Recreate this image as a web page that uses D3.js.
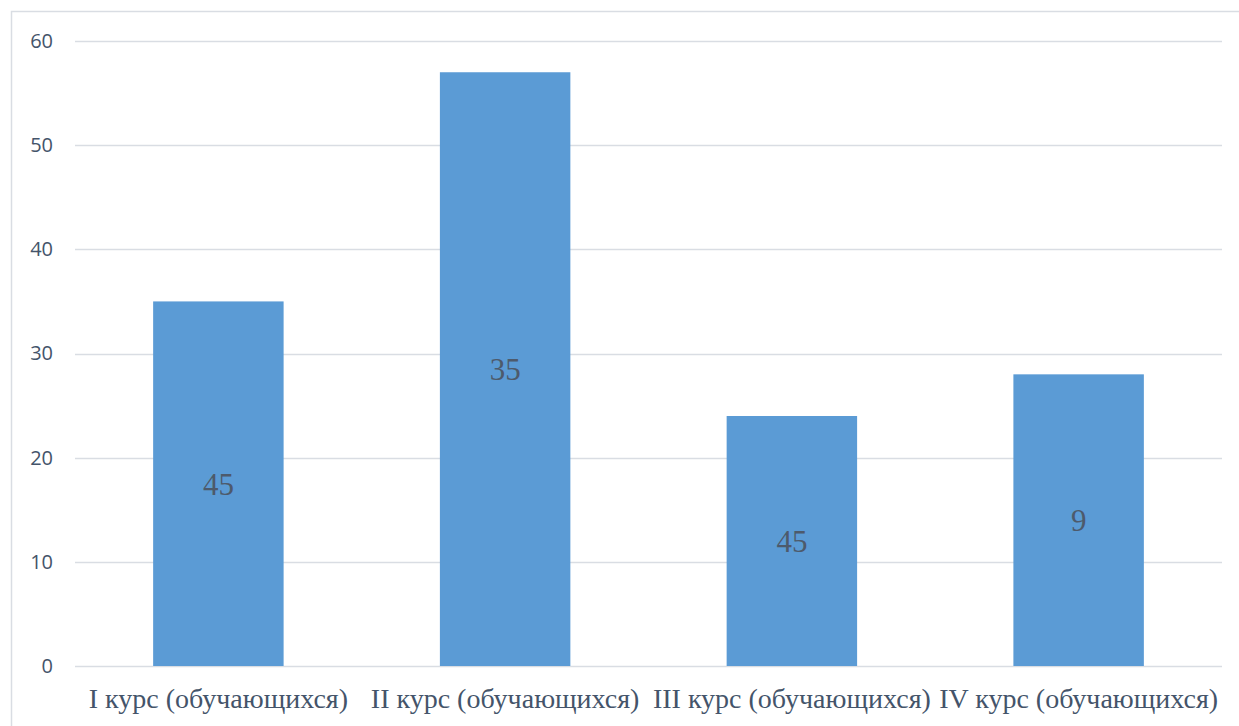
<!DOCTYPE html>
<meta charset="utf-8">
<style>
body { margin: 0; background: #fff; }
</style>
<body>
<script src="https://d3js.org/d3.v7.min.js"></script>
<script>

// Data
var categories = ["I курс (обучающихся)", "II курс (обучающихся)", "III курс (обучающихся)", "IV курс (обучающихся)"];
var values = [35, 57, 24, 28];
var labels = ["45", "35", "45", "9"];
var yTicks = [0, 10, 20, 30, 40, 50, 60];

var serif = "'Liberation Serif', 'Times New Roman', 'DejaVu Serif', serif";
var sans = "'Open Sans', 'Noto Sans', sans-serif";

var W = 1239, H = 726;
var margin = {top: 41, right: 17, bottom: 60, left: 75},
    width = W - margin.left - margin.right,
    height = H - margin.top - margin.bottom;

var svg = d3.select("body").append("svg")
    .attr("width", W)
    .attr("height", H);

// chart frame (only left/top visible)
svg.append("rect")
    .attr("x", 11.5).attr("y", 11.5)
    .attr("width", W + 20).attr("height", H + 20)
    .attr("fill", "none")
    .attr("stroke", "#d9dde3")
    .attr("stroke-width", 1.5);

var g = svg.append("g")
    .attr("transform", "translate(" + margin.left + "," + margin.top + ")");

var x = d3.scaleBand().domain(categories).range([0, width]).paddingInner(0.545).paddingOuter(0.2725);
var y = d3.scaleLinear().domain([0, 60]).range([height, 0]);

// gridlines
g.append("g")
    .selectAll("line").data(yTicks).enter().append("line")
    .attr("x1", 0).attr("x2", width)
    .attr("y1", function(d) { return Math.round(y(d)) + 0.5; })
    .attr("y2", function(d) { return Math.round(y(d)) + 0.5; })
    .attr("stroke", "#d9dde3")
    .attr("stroke-width", 1.5);

// y axis labels
var yAxis = d3.axisLeft(y).tickValues(yTicks).tickSize(0).tickPadding(22);
var ya = g.append("g").call(yAxis);
ya.select(".domain").remove();
ya.selectAll("text")
    .style("font-family", sans)
    .style("font-size", "20px")
    .style("fill", "#44546a");

// bars
g.selectAll(".bar").data(values).enter().append("rect")
    .attr("class", "bar")
    .attr("x", function(d, i) { return x(categories[i]); })
    .attr("width", x.bandwidth())
    .attr("y", function(d) { return y(d); })
    .attr("height", function(d) { return height - y(d); })
    .attr("fill", "#5b9bd5");

// labels in bars
g.selectAll(".value").data(values).enter().append("text")
    .attr("class", "value")
    .attr("text-anchor", "middle")
    .attr("x", function(d, i) { return x(categories[i]) + x.bandwidth() / 2; })
    .attr("y", function(d) { return (y(d) + height) / 2; })
    .attr("dy", "0.35em")
    .style("font-family", serif)
    .style("font-size", "31px")
    .style("fill", "#4d5a6c")
    .text(function(d, i) { return labels[i]; });

// x axis labels
var xAxis = d3.axisBottom(x).tickSize(0).tickPadding(22);
var xa = g.append("g")
    .attr("transform", "translate(0," + height + ")")
    .call(xAxis);
xa.select(".domain").remove();
xa.selectAll("text")
    .style("font-family", serif)
    .style("font-size", "28px")
    .style("fill", "#44546a");

</script>
</body>
